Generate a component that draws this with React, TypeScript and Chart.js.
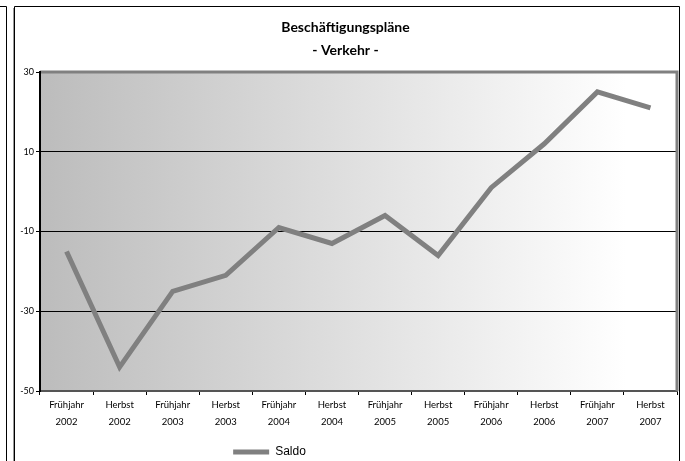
import React, { useEffect, useRef } from "react";
import { Chart, registerables } from "chart.js";

Chart.register(...registerables);

const categories: string[][] = [
  ["Frühjahr", "2002"], ["Herbst", "2002"],
  ["Frühjahr", "2003"], ["Herbst", "2003"],
  ["Frühjahr", "2004"], ["Herbst", "2004"],
  ["Frühjahr", "2005"], ["Herbst", "2005"],
  ["Frühjahr", "2006"], ["Herbst", "2006"],
  ["Frühjahr", "2007"], ["Herbst", "2007"],
];
const saldo: number[] = [-15, -44, -25, -21, -9, -13, -6, -16, 1, 12, 25, 21];
const yTicks: number[] = [30, 10, -10, -30, -50];
const titleLines: string[] = ["Beschäftigungspläne", "- Verkehr -"];

const framePlugin = {
  id: "frame",
  afterLayout(chart: any) {
    const lg = chart.legend;
    if (lg) {
      lg.right = lg.right - 152;
      lg.top = lg.top + 7;
      lg.bottom = lg.bottom + 7;
    }
  },
  beforeDraw(chart: any) {
    const ctx = chart.ctx;
    ctx.save();
    ctx.fillStyle = "#ffffff";
    ctx.fillRect(0, 0, chart.width, chart.height);
    ctx.strokeStyle = "#000";
    ctx.lineWidth = 1;
    ctx.beginPath();
    ctx.moveTo(0, 6.5);
    ctx.lineTo(6.5, 6.5);
    ctx.lineTo(6.5, chart.height);
    ctx.stroke();
    ctx.strokeStyle = "#999";
    ctx.beginPath();
    ctx.moveTo(13.5, 8);
    ctx.lineTo(13.5, chart.height);
    ctx.stroke();
    ctx.strokeStyle = "#000";
    ctx.beginPath();
    ctx.moveTo(14.5, chart.height);
    ctx.lineTo(14.5, 6.5);
    ctx.lineTo(679.5, 6.5);
    ctx.lineTo(679.5, chart.height);
    ctx.stroke();
    const a = chart.chartArea;
    const g = ctx.createLinearGradient(a.left, 0, a.right, 0);
    g.addColorStop(0, "#bcbcbc");
    g.addColorStop(0.92, "#ffffff");
    g.addColorStop(1, "#ffffff");
    ctx.fillStyle = g;
    ctx.fillRect(a.left, a.top, a.right - a.left, a.bottom - a.top);
    ctx.restore();
  },
  afterDatasetsDraw(chart: any) {
    const ctx = chart.ctx;
    const a = chart.chartArea;
    ctx.save();
    ctx.strokeStyle = "#808080";
    ctx.lineWidth = 3;
    ctx.beginPath();
    ctx.moveTo(a.left, a.top);
    ctx.lineTo(a.right, a.top);
    ctx.lineTo(a.right, a.bottom);
    ctx.stroke();
    ctx.strokeStyle = "#000";
    ctx.lineWidth = 2;
    ctx.beginPath();
    ctx.moveTo(a.left, a.top - 1);
    ctx.lineTo(a.left, a.bottom);
    ctx.stroke();
    ctx.restore();
  },
};

export default function App() {
  const ref = useRef<HTMLCanvasElement>(null);
  useEffect(() => {
    if (!ref.current) return;
    const chart = new Chart(ref.current, {
      type: "line",
      data: {
        labels: categories,
        datasets: [
          {
            label: "Saldo",
            data: saldo,
            borderColor: "#808080",
            backgroundColor: "#808080",
            borderWidth: 5,
            pointRadius: 0,
            pointHoverRadius: 0,
            tension: 0,
          },
        ],
      },
      options: {
        animation: false,
        responsive: false,
        layout: { padding: { left: 14, right: 8, top: 6, bottom: 0 } },
        scales: {
          x: {
            offset: true,
            grid: {
              offset: true,
              drawOnChartArea: false,
              drawTicks: true,
              tickLength: 4,
              tickColor: "#000",
            },
            border: { display: true, color: "#555", width: 2 },
            ticks: {
              color: "#000",
              font: { family: "Lato", size: 9.5, lineHeight: 17 / 9.5 },
              maxRotation: 0,
              autoSkip: false,
              padding: 1,
            },
            afterFit: (s: any) => { s.height = 46; },
          },
          y: {
            min: -50,
            max: 30,
            afterBuildTicks: (s: any) => {
              s.ticks = yTicks.map((v) => ({ value: v }));
            },
            grid: {
              color: (c: any) => (c.tick && (c.tick.value === 30 || c.tick.value === -50) ? "rgba(0,0,0,0)" : "#000"),
              lineWidth: 1,
              tickLength: 4,
              tickColor: "#000",
              drawTicks: true,
            },
            border: { display: true, color: "#000", width: 2 },
            ticks: {
              color: "#000",
              font: { family: "Lato", size: 9 },
              padding: 2,
            },
            afterFit: (s: any) => { s.width = 26; },
          },
        },
        plugins: {
          title: {
            display: true,
            text: titleLines,
            color: "#000",
            font: { family: "Lato", size: 14, weight: "bold", lineHeight: 23 / 14 },
            padding: { top: 9.5, bottom: 10.5 },
          },
          legend: {
            display: true,
            position: "bottom",
            labels: {
              color: "#000",
              font: { family: "Liberation Sans", size: 12 },
              usePointStyle: true,
              pointStyle: "line",
              pointStyleWidth: 36,
              padding: 2,
            },
          },
          tooltip: { enabled: false },
        },
      },
      plugins: [framePlugin],
    });
    return () => chart.destroy();
  }, []);
  return (
    <div style={{ position: "fixed", left: 0, top: 0, width: 685, height: 461 }}>
      <canvas ref={ref} width={685} height={461} style={{ width: 685, height: 461 }} />
    </div>
  );
}
